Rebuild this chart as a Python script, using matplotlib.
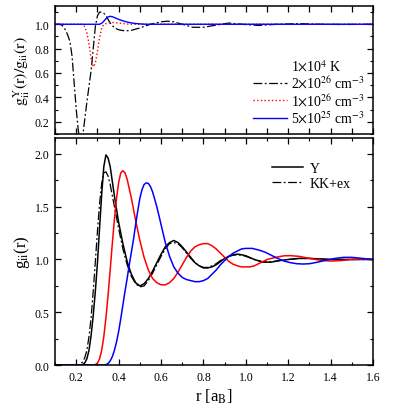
import matplotlib
matplotlib.use("Agg")
import matplotlib.pyplot as plt
from matplotlib.ticker import MultipleLocator
from matplotlib.lines import Line2D

plt.rcParams['font.family'] = ['Liberation Serif', 'DejaVu Serif']
plt.rcParams['mathtext.fontset'] = 'stix'

# ---------------- bottom panel data: g_ii(r) ----------------
r_y_black = [0.10, 0.22, 0.23, 0.24, 0.25, 0.26, 0.27, 0.28, 0.29, 0.30, 0.31, 0.32, 0.33, 0.34, 0.35,
             0.36, 0.38, 0.40, 0.42, 0.44, 0.46, 0.48, 0.50, 0.52, 0.54, 0.56, 0.58, 0.60, 0.62, 0.64,
             0.66, 0.68, 0.70, 0.72, 0.74, 0.76, 0.78, 0.80, 0.82, 0.84, 0.86, 0.88, 0.90, 0.92, 0.94,
             0.96, 0.98, 1.00, 1.04, 1.08, 1.12, 1.16, 1.20, 1.25, 1.30, 1.35, 1.40, 1.50, 1.60]
g_y_black = [0.00, 0.00, 0.005, 0.02, 0.06, 0.14, 0.28, 0.47, 0.70, 0.97, 1.30, 1.62, 1.88, 1.99, 1.96,
             1.88, 1.60, 1.35, 1.15, 0.98, 0.86, 0.78, 0.75, 0.77, 0.82, 0.89, 0.97, 1.05, 1.12, 1.16,
             1.18, 1.16, 1.12, 1.07, 1.02, 0.97, 0.94, 0.92, 0.92, 0.93, 0.95, 0.98, 1.01, 1.03, 1.045,
             1.05, 1.045, 1.035, 1.00, 0.975, 0.975, 0.99, 1.00, 1.01, 1.01, 1.005, 1.00, 1.00, 1.00]

r_kk_black = [0.10, 0.20, 0.21, 0.22, 0.23, 0.24, 0.25, 0.26, 0.27, 0.28, 0.29, 0.30, 0.31, 0.32, 0.33,
              0.34, 0.35, 0.36, 0.38, 0.40, 0.42, 0.44, 0.46, 0.48, 0.50, 0.52, 0.54, 0.56, 0.58, 0.60,
              0.62, 0.64, 0.66, 0.68, 0.70, 0.72, 0.74, 0.76, 0.78, 0.80, 0.82, 0.84, 0.86, 0.88, 0.90,
              0.92, 0.94, 0.96, 0.98, 1.00, 1.04, 1.08, 1.12, 1.16, 1.20, 1.25, 1.30, 1.40, 1.60]
g_kk_black = [0.00, 0.00, 0.003, 0.01, 0.03, 0.07, 0.14, 0.27, 0.45, 0.70, 0.98, 1.27, 1.53, 1.72, 1.82,
              1.83, 1.79, 1.71, 1.50, 1.29, 1.10, 0.95, 0.84, 0.77, 0.74, 0.75, 0.80, 0.87, 0.95, 1.03,
              1.10, 1.15, 1.16, 1.15, 1.11, 1.06, 1.01, 0.97, 0.94, 0.925, 0.925, 0.94, 0.96, 0.99, 1.01,
              1.03, 1.04, 1.045, 1.04, 1.03, 1.00, 0.978, 0.978, 0.99, 1.00, 1.01, 1.01, 1.00, 1.00]

r_y_red = [0.10, 0.28, 0.29, 0.30, 0.31, 0.32, 0.33, 0.34, 0.35, 0.36, 0.37, 0.38, 0.39, 0.40, 0.41,
           0.42, 0.43, 0.44, 0.46, 0.48, 0.50, 0.52, 0.54, 0.56, 0.58, 0.60, 0.62, 0.64, 0.66, 0.68,
           0.70, 0.72, 0.74, 0.76, 0.78, 0.80, 0.82, 0.84, 0.86, 0.88, 0.90, 0.92, 0.94, 0.96, 0.98,
           1.00, 1.02, 1.04, 1.06, 1.08, 1.10, 1.14, 1.18, 1.21, 1.25, 1.30, 1.35, 1.40, 1.45, 1.50,
           1.55, 1.60]
g_y_red = [0.00, 0.00, 0.005, 0.02, 0.06, 0.14, 0.27, 0.45, 0.66, 0.90, 1.15, 1.38, 1.58, 1.73, 1.82,
           1.84, 1.82, 1.76, 1.58, 1.37, 1.18, 1.02, 0.90, 0.82, 0.78, 0.76, 0.76, 0.78, 0.82, 0.88,
           0.95, 1.02, 1.08, 1.12, 1.14, 1.15, 1.15, 1.13, 1.10, 1.06, 1.02, 0.98, 0.955, 0.94, 0.93,
           0.93, 0.93, 0.94, 0.96, 0.98, 1.00, 1.02, 1.035, 1.036, 1.03, 1.01, 0.993, 0.985, 0.99, 1.00,
           1.005, 1.00]

r_y_blue = [0.10, 0.33, 0.34, 0.35, 0.36, 0.37, 0.38, 0.39, 0.40, 0.41, 0.42, 0.43, 0.44, 0.45, 0.46,
            0.47, 0.48, 0.49, 0.50, 0.51, 0.52, 0.53, 0.54, 0.55, 0.56, 0.58, 0.60, 0.62, 0.64, 0.66,
            0.68, 0.70, 0.72, 0.74, 0.76, 0.78, 0.80, 0.82, 0.84, 0.86, 0.88, 0.90, 0.92, 0.94, 0.96,
            0.98, 1.00, 1.03, 1.06, 1.09, 1.12, 1.15, 1.18, 1.21, 1.24, 1.27, 1.30, 1.34, 1.38, 1.42,
            1.46, 1.50, 1.55, 1.60]
g_y_blue = [0.00, 0.00, 0.005, 0.015, 0.04, 0.08, 0.14, 0.22, 0.32, 0.44, 0.57, 0.70, 0.82, 0.95, 1.07,
            1.19, 1.33, 1.46, 1.58, 1.66, 1.71, 1.725, 1.72, 1.69, 1.64, 1.50, 1.33, 1.16, 1.03, 0.93,
            0.87, 0.83, 0.81, 0.80, 0.79, 0.79, 0.80, 0.82, 0.86, 0.90, 0.95, 0.99, 1.03, 1.06, 1.08,
            1.10, 1.105, 1.105, 1.09, 1.07, 1.04, 1.01, 0.985, 0.97, 0.96, 0.957, 0.96, 0.975, 0.995, 1.01,
            1.02, 1.02, 1.01, 1.00]

# ---------------- top panel data: ratio g^Y / g ----------------
r_ratio_2e26 = [0.10, 0.12, 0.13, 0.14, 0.15, 0.16, 0.17, 0.18, 0.19, 0.20, 0.21, 0.22, 0.23, 0.24, 0.25,
                0.26, 0.27, 0.28, 0.29, 0.30, 0.31, 0.32, 0.33, 0.34, 0.35, 0.36, 0.37, 0.38, 0.40, 0.43,
                0.46, 0.50, 0.55, 0.60, 0.63, 0.66, 0.70, 0.75, 0.80, 0.85, 0.92, 0.98, 1.06, 1.15, 1.25,
                1.35, 1.45, 1.60]
ratio_2e26 = [1.00, 1.00, 0.995, 0.98, 0.95, 0.91, 0.86, 0.74, 0.52, 0.30, 0.12, 0.04, 0.07, 0.22, 0.36,
              0.49, 0.62, 0.80, 0.98, 1.07, 1.10, 1.10, 1.09, 1.07, 1.04, 1.01, 0.99, 0.97, 0.955, 0.945,
              0.95, 0.97, 1.00, 1.02, 1.025, 1.02, 1.00, 0.975, 0.975, 0.99, 1.01, 1.00, 0.99, 1.00, 1.005,
              1.00, 0.998, 1.00]

r_ratio_1e26 = [0.10, 0.23, 0.24, 0.25, 0.26, 0.27, 0.28, 0.29, 0.30, 0.31, 0.32, 0.33, 0.35, 0.37, 0.40,
                0.45, 1.60]
ratio_1e26 = [1.00, 1.00, 0.98, 0.93, 0.84, 0.72, 0.65, 0.68, 0.78, 0.89, 0.97, 1.00, 1.01, 1.015, 1.01,
              1.00, 1.00]

r_ratio_5e25 = [0.10, 0.31, 0.32, 0.33, 0.34, 0.35, 0.36, 0.37, 0.38, 0.39, 0.40, 0.42, 0.44, 0.46,
                0.48, 0.50, 0.53, 1.60]
ratio_5e25 = [1.00, 1.00, 1.008, 1.025, 1.045, 1.06, 1.065, 1.062, 1.055, 1.047, 1.04, 1.028, 1.018,
              1.011, 1.006, 1.003, 1.00, 1.00]

legend_top = ["1$\\times$10$^{4}$ K", "2$\\times$10$^{26}$ cm$^{-3}$",
              "1$\\times$10$^{26}$ cm$^{-3}$", "5$\\times$10$^{25}$ cm$^{-3}$"]
legend_bottom = ["Y", "KK+ex"]

dashdot = (0, (7, 2, 1.5, 2))

fig = plt.figure(figsize=(3.99, 4.10), dpi=100)
ax1 = fig.add_axes([0.138, 0.671, 0.797, 0.312])
ax2 = fig.add_axes([0.138, 0.107, 0.797, 0.554])

# top panel
ax1.plot(r_ratio_2e26, ratio_2e26, color='black', lw=0.9, ls=dashdot)
ax1.plot(r_ratio_1e26, ratio_1e26, color='red', lw=1.0, ls=':')
ax1.plot(r_ratio_5e25, ratio_5e25, color='blue', lw=1.0, ls='-')
ax1.set_xlim(0.1, 1.6)
ax1.set_ylim(0.1, 1.15)
ax1.xaxis.set_major_locator(MultipleLocator(0.1))
ax1.yaxis.set_major_locator(MultipleLocator(0.2))
ax1.yaxis.set_minor_locator(MultipleLocator(0.1))
ax1.tick_params(axis='x', labelbottom=False)
ax1.set_ylabel("$\\mathrm{g}^{\\mathrm{Y}}_{\\mathrm{ii}}(\\mathrm{r})/\\mathrm{g}_{\\mathrm{ii}}(\\mathrm{r})$",
               fontsize=11.5, labelpad=2)
h_top = [Line2D([], [], color='none'),
         Line2D([], [], color='black', lw=0.9, ls=dashdot),
         Line2D([], [], color='red', lw=1.0, ls=':'),
         Line2D([], [], color='blue', lw=1.0, ls='-')]
ax1.legend(h_top, legend_top, loc='lower right', frameon=False, fontsize=10,
           handlelength=2.4, handletextpad=0.3, labelspacing=0.08, borderaxespad=0.2)

# bottom panel
ax2.plot(r_y_black, g_y_black, color='black', lw=1.1, ls='-')
ax2.plot(r_kk_black, g_kk_black, color='black', lw=0.9, ls=dashdot)
ax2.plot(r_y_red, g_y_red, color='red', lw=1.1, ls='-')
ax2.plot(r_y_blue, g_y_blue, color='blue', lw=1.1, ls='-')
ax2.set_xlim(0.1, 1.6)
ax2.set_ylim(0.0, 2.15)
ax2.xaxis.set_major_locator(MultipleLocator(0.2))
ax2.xaxis.set_minor_locator(MultipleLocator(0.1))
ax2.yaxis.set_major_locator(MultipleLocator(0.5))
ax2.yaxis.set_minor_locator(MultipleLocator(0.25))
ax2.set_xlabel("r [a$_\\mathrm{B}$]", fontsize=12, labelpad=3)
ax2.set_ylabel("g$_\\mathrm{ii}$(r)", fontsize=12, labelpad=2)
h_bot = [Line2D([], [], color='black', lw=1.1, ls='-'),
         Line2D([], [], color='black', lw=0.9, ls=dashdot)]
ax2.legend(h_bot, legend_bottom, loc='upper right', frameon=False, fontsize=10,
           handlelength=2.2, handletextpad=0.5, labelspacing=0.15,
           bbox_to_anchor=(0.97, 0.95))

for ax in (ax1, ax2):
    ax.tick_params(which='both', direction='in', top=True, right=True, labelsize=8.5, pad=4)
    ax.tick_params(which='major', length=4, width=0.9)
    ax.tick_params(which='minor', length=2.5, width=0.8)
    for s in ax.spines.values():
        s.set_linewidth(1.1)

fig.savefig("out.png", dpi=100)
